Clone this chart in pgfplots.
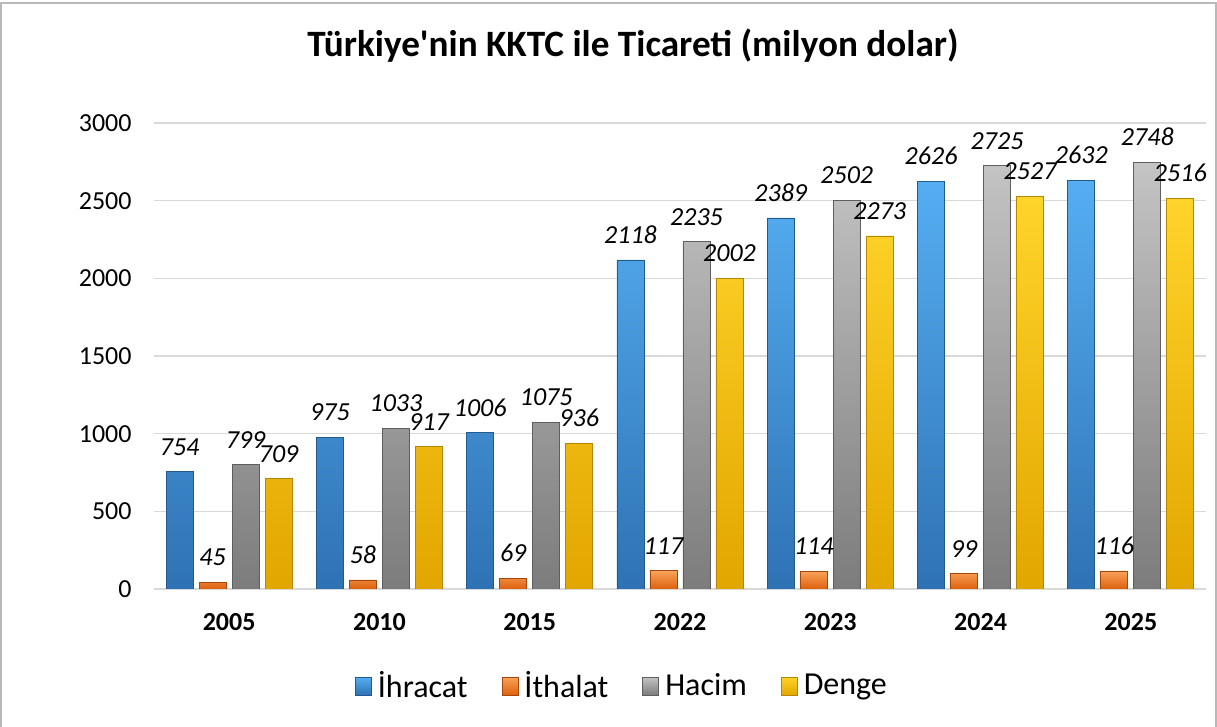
\documentclass[border=0pt]{standalone}
\usepackage{fontspec}
\setmainfont{Carlito}[Ligatures=TeXOff]
\usepackage{pgfplots}
\pgfplotsset{compat=1.18}
\definecolor{bluT}{HTML}{55AEF2}
\definecolor{bluB}{HTML}{2E72B4}
\definecolor{bluE}{HTML}{24598C}
\definecolor{orgT}{HTML}{F9A35C}
\definecolor{orgB}{HTML}{DE600C}
\definecolor{orgE}{HTML}{A54708}
\definecolor{gryT}{HTML}{C4C4C4}
\definecolor{gryB}{HTML}{7C7C7C}
\definecolor{gryE}{HTML}{5E5E5E}
\definecolor{ylwT}{HTML}{FFD42A}
\definecolor{ylwB}{HTML}{E2A600}
\definecolor{ylwE}{HTML}{B58600}
\begin{document}
\begin{tikzpicture}[x=1pt,y=1pt]
\path[use as bounding box] (0,0) rectangle (608.5,363.5);
\draw[gray!55, line width=0.8pt] (0.4,0) -- (0.4,362) -- (608,362) -- (608,0);
\node[font=\fontsize{18.6}{22}\selectfont\bfseries, anchor=base, inner sep=0pt] at (316.5,335) {Türkiye'nin KKTC ile Ticareti (milyon dolar)};
\begin{axis}[
  at={(77pt,69pt)}, anchor=south west,
  scale only axis, width=526pt, height=233pt,
  ymin=0, ymax=3000, ytick={0,500,...,3000},
  xmin=-0.5, xmax=6.5, xtick={0,...,6},
  xticklabels={2005,2010,2015,2022,2023,2024,2025},
  ybar=3pt, bar width=13.5pt,
  axis line style={draw=none}, tick style={draw=none}, major tick length=0pt,
  ymajorgrids, major grid style={gray!30, line width=0.8pt},
  /pgf/number format/.cd, 1000 sep={}, assume math mode=true, /pgfplots/.cd,
  ticklabel style={font=\fontsize{13}{15}\selectfont},
  yticklabel style={xshift=-7.7pt},
  xticklabel style={font=\fontsize{13}{15}\selectfont\bfseries, yshift=-8.7pt},
  nodes near coords,
  every node near coord/.append style={font=\fontsize{13}{15}\selectfont\itshape, yshift=4.7pt, text=black},
  legend style={at={(0.4468,-0.2082)}, anchor=center, draw=none, fill=none,
    legend columns=4, font=\fontsize{16}{19}\selectfont,
    /tikz/every even column/.append style={column sep=14pt},
    nodes={inner xsep=3pt, inner ysep=0pt}},
]
\addplot[top color=bluT, bottom color=bluB, draw=bluE, line width=0.4pt,
  legend image code/.code={\path[top color=bluT,bottom color=bluB,draw=bluE] (0pt,-4.5pt) rectangle (8pt,4.5pt);}]
  coordinates {(0,754) (1,975) (2,1006) (3,2118) (4,2389) (5,2626) (6,2632)};
\addlegendentry{İhracat}
\addplot[top color=orgT, bottom color=orgB, draw=orgE, line width=0.4pt,
  legend image code/.code={\path[top color=orgT,bottom color=orgB,draw=orgE] (0pt,-4.5pt) rectangle (8pt,4.5pt);}]
  coordinates {(0,45) (1,58) (2,69) (3,117) (4,114) (5,99) (6,116)};
\addlegendentry{İthalat}
\addplot[top color=gryT, bottom color=gryB, draw=gryE, line width=0.4pt,
  legend image code/.code={\path[top color=gryT,bottom color=gryB,draw=gryE] (0pt,-4.5pt) rectangle (8pt,4.5pt);}]
  coordinates {(0,799) (1,1033) (2,1075) (3,2235) (4,2502) (5,2725) (6,2748)};
\addlegendentry{Hacim}
\addplot[top color=ylwT, bottom color=ylwB, draw=ylwE, line width=0.4pt,
  legend image code/.code={\path[top color=ylwT,bottom color=ylwB,draw=ylwE] (0pt,-4.5pt) rectangle (8pt,4.5pt);}]
  coordinates {(0,709) (1,917) (2,936) (3,2002) (4,2273) (5,2527) (6,2516)};
\addlegendentry{Denge}
\end{axis}
\end{tikzpicture}
\end{document}
